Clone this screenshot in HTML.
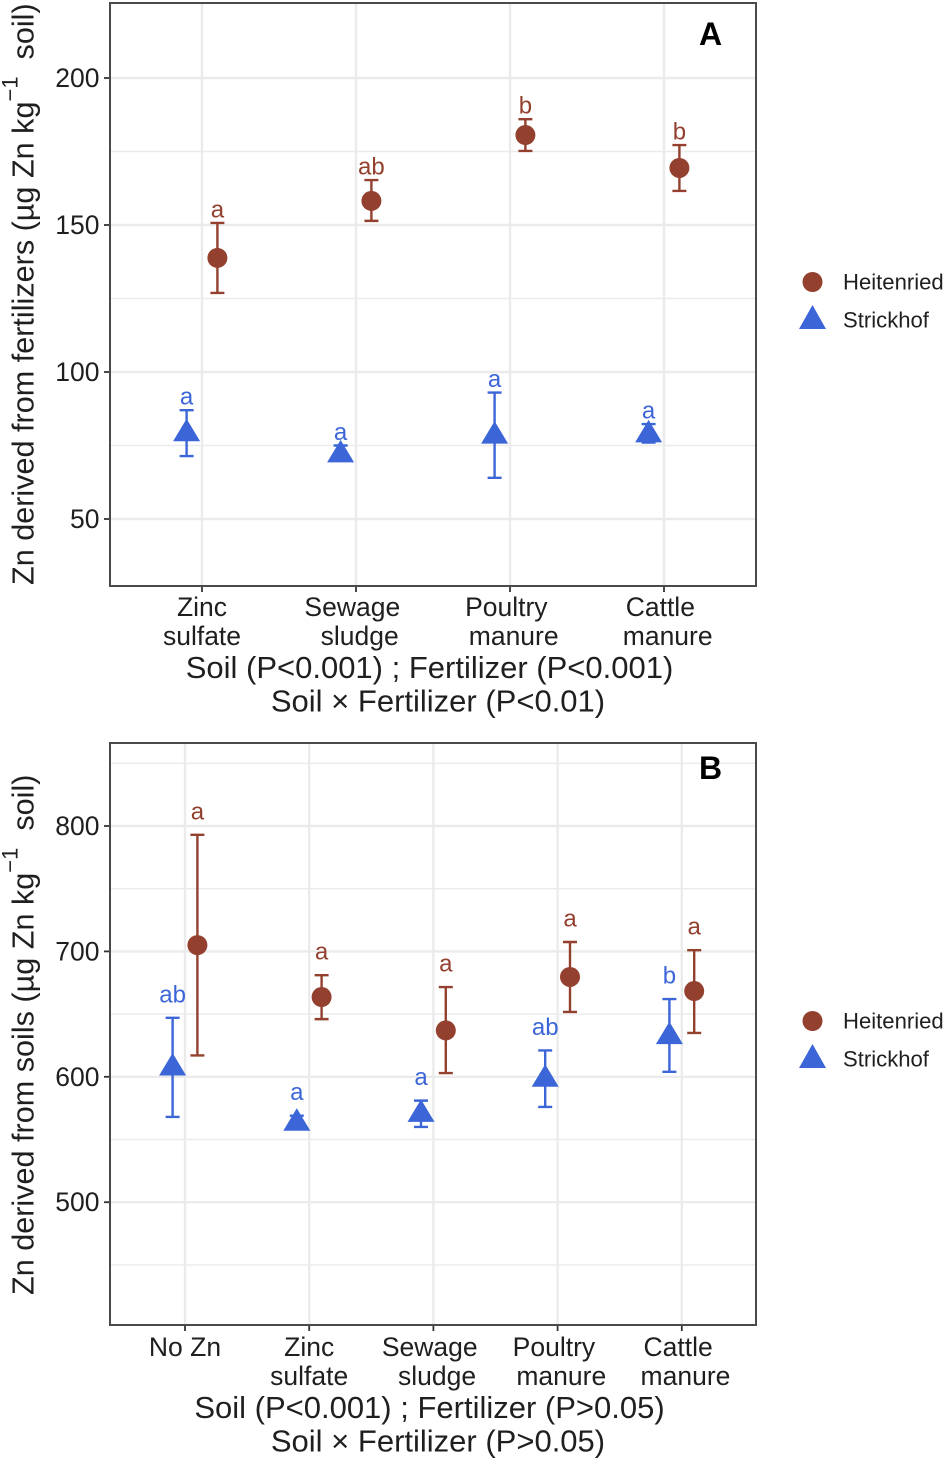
<!DOCTYPE html>
<html lang="en">
<head>
<meta charset="utf-8">
<title>Zn derived from fertilizers and soils</title>
<style>
html,body{margin:0;padding:0;background:#fff;width:945px;height:1461px;overflow:hidden}
svg{display:block}
text{font-family:"Liberation Sans",Arial,sans-serif;fill:#1f1f1f}
</style>
</head>
<body>
<svg id="chart" xmlns="http://www.w3.org/2000/svg" width="945" height="1461" viewBox="0 0 945 1461"></svg>
<script>
// Panel A data
const categoriesA = ["Zinc|sulfate", "Sewage\u00A0|\u00A0sludge", "Poultry\u00A0|\u00A0manure", "Cattle\u00A0|\u00A0manure"];
const heitMeanA = [138.8, 158.2, 180.6, 169.4];
const heitUpperA = [150.7, 165.3, 186, 177.2];
const heitLowerA = [126.9, 151.4, 175.2, 161.6];
const heitLettersA = ["a", "ab", "b", "b"];
const strickMeanA = [79, 71.8, 78.2, 78.6];
const strickUpperA = [87, 75, 93, 82.3];
const strickLowerA = [71.4, 70, 64, 76];
const strickLettersA = ["a", "a", "a", "a"];
const majorTicksA = [50, 100, 150, 200];
const minorTicksA = [75, 125, 175];

// Panel B data
const categoriesB = ["No Zn", "Zinc|sulfate", "Sewage\u00A0|\u00A0sludge", "Poultry\u00A0|\u00A0manure", "Cattle\u00A0|\u00A0manure"];
const heitMeanB = [705, 663.6, 637, 679.6, 668.4];
const heitUpperB = [793, 681, 671.6, 707.5, 701];
const heitLowerB = [617, 646, 603, 651.7, 635];
const heitLettersB = ["a", "a", "a", "a", "a"];
const strickMeanB = [607, 563, 570, 598, 632];
const strickUpperB = [647, 569, 581, 621, 662];
const strickLowerB = [568, 559, 560, 576, 604];
const strickLettersB = ["ab", "a", "a", "ab", "b"];
const majorTicksB = [500, 600, 700, 800];
const minorTicksB = [450, 550, 650, 750, 850];

const BROWN = "#93402f";
const BLUE = "#3c66d8";
const GRID = "#ebebeb";
const AXIS = "#4a4a4a";
const svg = document.getElementById("chart");

function add(parent, tag, attrs, txt) {
  const el = document.createElementNS("http://www.w3.org/2000/svg", tag);
  for (const k in attrs) el.setAttribute(k, attrs[k]);
  if (txt !== undefined) el.textContent = txt;
  parent.appendChild(el);
  return el;
}

function drawPoint(g, series, x, y, yUp, yLo, letter, color, offset) {
  const err = add(g, "path", {
    d: `M${x - 7} ${yUp}H${x + 7}M${x} ${yUp}V${yLo}M${x - 7} ${yLo}H${x + 7}`,
    stroke: color, "stroke-width": 2.4, fill: "none"
  });
  
  
  let mark;
  if (series === "heit") {
    mark = add(g, "circle", { cx: x, cy: y, r: 10, fill: color });
  } else {
    mark = add(g, "path", { d: `M${x} ${y - 15}L${x + 13.5} ${y + 7.5}H${x - 13.5}Z`, fill: color });
  }
  
  
  const lab = add(g, "text", {
    x: x, y: yUp - offset + 7.5, "text-anchor": "middle", "font-size": 24, style: "fill:" + color
  }, letter);
  
  
}

function drawPanel(p) {
  const g = add(svg, "g", {});
  
  
  const yScale = v => p.y0 + (p.v0 - v) * p.pxPerUnit;
  const xScale = i => p.xFirst + i * p.xStep;

  p.minor.forEach(v => {
    const l = add(g, "line", { x1: p.left, x2: p.right, y1: yScale(v), y2: yScale(v), stroke: GRID, "stroke-width": 1.4 });
    
    
  });
  p.major.forEach(v => {
    const y = yScale(v);
    const l = add(g, "line", { x1: p.left, x2: p.right, y1: y, y2: y, stroke: GRID, "stroke-width": 2.4 });
    
    
    const t = add(g, "line", { x1: p.left - 6, x2: p.left, y1: y, y2: y, stroke: "#333", "stroke-width": 1.8 });
    
    
    const lab = add(g, "text", { x: 99.5, y: y + 9, "text-anchor": "end", "font-size": 26.5 }, String(v));
    
    
  });
  p.categories.forEach((c, i) => {
    const x = xScale(i);
    const l = add(g, "line", { x1: x, x2: x, y1: p.top, y2: p.bottom, stroke: GRID, "stroke-width": 2.4 });
    
    
    const t = add(g, "line", { x1: x, x2: x, y1: p.bottom, y2: p.bottom + 6, stroke: "#333", "stroke-width": 1.8 });
    
    
    c.split("|").forEach((line, j) => {
      const lab = add(g, "text", { x: x, y: p.labelY + j * 29, "text-anchor": "middle", "font-size": 26.5, "xml:space": "preserve" }, line);
      
      
    });
  });
  p.categories.forEach((c, i) => {
    const x = xScale(i);
    drawPoint(g, "strick", x - p.dodge, yScale(p.sMean[i]), yScale(p.sUp[i]), yScale(p.sLo[i]), p.sLet[i], BLUE, p.letterGap);
    drawPoint(g, "heit", x + p.dodge, yScale(p.hMean[i]), yScale(p.hUp[i]), yScale(p.hLo[i]), p.hLet[i], BROWN, p.letterGap);
  });
  const frame = add(g, "rect", { x: p.left, y: p.top, width: p.right - p.left, height: p.bottom - p.top, fill: "none", stroke: AXIS, "stroke-width": 2 });
  
  

  const tag = add(g, "text", { x: 710.5, y: p.tagY, "text-anchor": "middle", "font-size": 32, "font-weight": "bold", style: "fill:#000" }, p.tag);
  
  

  const yt = add(g, "text", {
    transform: `translate(33.5 ${p.titleY}) rotate(-90)`, "font-size": p.titleSize, "xml:space": "preserve"
  });
  
  
  add(yt, "tspan", {}, p.titleStart);
  add(yt, "tspan", { dy: -16, "font-size": 22 }, "\u22121");
  add(yt, "tspan", { dy: 16 }, "\u00A0\u00A0soil)");

  const x1 = add(g, "text", { x: 429.5, y: p.capY, "text-anchor": "middle", "font-size": 31 }, p.cap1);
  
  
  const x2 = add(g, "text", { x: 438, y: p.capY + 33.5, "text-anchor": "middle", "font-size": 31 }, p.cap2);
  
  

  const leg = add(g, "g", {});
  
  
  const c = add(leg, "circle", { cx: 812.5, cy: p.legY, r: 10, fill: BROWN });
  
  
  const t1 = add(leg, "text", { x: 843, y: p.legY + 7.5, "font-size": 22.1 }, "Heitenried");
  
  
  const tri = add(leg, "path", { d: `M812.5 ${p.legY + 23}L826 ${p.legY + 47}H799Z`, fill: BLUE });
  
  
  const t2 = add(leg, "text", { x: 843, y: p.legY + 45.5, "font-size": 22.1 }, "Strickhof");
  
  
}

drawPanel({
  name: "panel-a", tag: "A", tagY: 45, left: 110, right: 756, top: 3, bottom: 586, labelY: 616,
  y0: 78, v0: 200, pxPerUnit: 2.94, xFirst: 202, xStep: 154, dodge: 15.4, letterGap: 13,
  major: majorTicksA, minor: minorTicksA, categories: categoriesA,
  hMean: heitMeanA, hUp: heitUpperA, hLo: heitLowerA, hLet: heitLettersA,
  sMean: strickMeanA, sUp: strickUpperA, sLo: strickLowerA, sLet: strickLettersA,
  titleY: 585, titleSize: 30.6, titleStart: "Zn derived from fertilizers (\u00B5g Zn kg",
  capY: 678, cap1: "Soil (P<0.001) ; Fertilizer (P<0.001)", cap2: "Soil \u00D7 Fertilizer (P<0.01)", legY: 282
});
drawPanel({
  name: "panel-b", tag: "B", tagY: 779, left: 110, right: 756, top: 743, bottom: 1325, labelY: 1356,
  y0: 826, v0: 800, pxPerUnit: 1.254, xFirst: 185, xStep: 124.2, dodge: 12.4, letterGap: 23,
  major: majorTicksB, minor: minorTicksB, categories: categoriesB,
  hMean: heitMeanB, hUp: heitUpperB, hLo: heitLowerB, hLet: heitLettersB,
  sMean: strickMeanB, sUp: strickUpperB, sLo: strickLowerB, sLet: strickLettersB,
  titleY: 1295, titleSize: 30.6, titleStart: "Zn derived from soils (\u00B5g Zn kg",
  capY: 1418, cap1: "Soil (P<0.001) ; Fertilizer (P>0.05)", cap2: "Soil \u00D7 Fertilizer (P>0.05)", legY: 1021
});
</script>
</body>
</html>
